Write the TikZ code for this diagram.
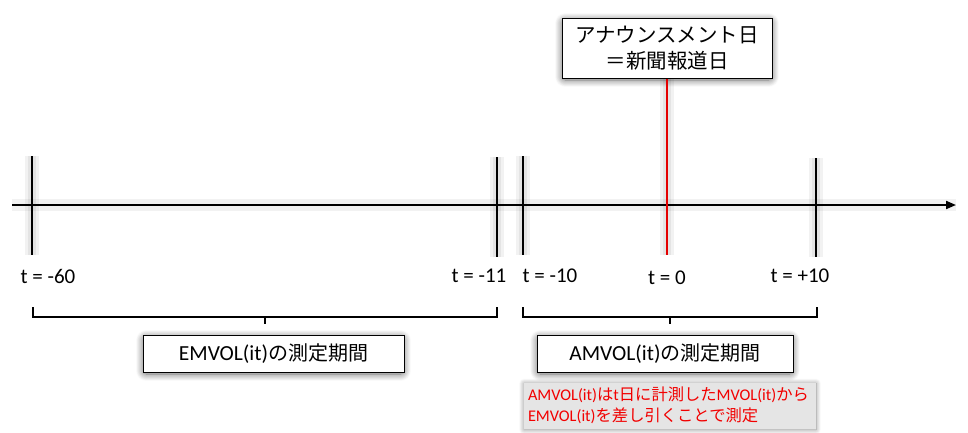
\documentclass[tikz,border=0pt]{standalone}
\usepackage{fontspec}
\setmainfont{Carlito}
\newfontfamily\jp{Noto Sans CJK JP}
\usetikzlibrary{shadows.blur,arrows.meta}
\begin{document}
\begin{tikzpicture}[x=1pt,y=-1pt,
  glow/.style={preaction={draw=black,opacity=0.05,line width=14pt},
               preaction={draw=black,opacity=0.06,line width=8pt}},
  axisline/.style={line width=2pt,black},
  tickline/.style={line width=2.4pt,black,glow},
  redline/.style={line width=2.4pt,red!90!black,glow},
  bracket/.style={line width=1.6pt,black},
  lab/.style={font=\fontsize{21}{24}\selectfont,inner sep=0pt},
  sbox/.style={draw=black,line width=1pt,fill=white,inner sep=0pt,
    blur shadow={shadow blur steps=12,shadow xshift=0pt,shadow yshift=-2pt,shadow blur radius=7pt,shadow blur extra rounding=3pt,shadow opacity=60}},
  notebox/.style={fill=gray!20,inner sep=0pt,text=red!95!black,align=left,
    font=\fontsize{16.3}{20.5}\selectfont,text width=284pt,minimum width=292pt,minimum height=46pt,
    blur shadow={shadow blur steps=10,shadow xshift=0pt,shadow yshift=-1pt,shadow blur radius=5pt,shadow opacity=45}}
]
\useasboundingbox (0,0) rectangle (968,432);
% axis
\coordinate (a0) at (12,205);
\coordinate (a1) at (956,205);
\draw[black,opacity=0.05,line width=12pt] (a0) -- (a1);
\draw[axisline,-{Triangle[length=10pt,width=8pt]}] (a0) -- (a1);
% ticks
\coordinate (m60t) at (32,156); \coordinate (m60b) at (32,255);
\coordinate (m11t) at (497,157); \coordinate (m11b) at (497,257);
\coordinate (m10t) at (523,156); \coordinate (m10b) at (523,255);
\coordinate (p10t) at (816,158); \coordinate (p10b) at (816,257);
\coordinate (z0b) at (667,255);
\draw[tickline] (m60t) -- (m60b);
\draw[tickline] (m11t) -- (m11b);
\draw[tickline] (m10t) -- (m10b);
\draw[tickline] (p10t) -- (p10b);
% top box
\node[sbox,minimum width=210pt,minimum height=60pt,align=center,
  font=\jp\fontsize{20.5}{26}\selectfont] (tb) at (667,48) {アナウンスメント日\\＝新聞報道日};
\draw[redline] (tb.south) -- (z0b);
% labels
\node[lab] (l60) at (48,276) {t = -60};
\node[lab] (l11) at (479,276) {t = -11};
\node[lab] (l10) at (550,276) {t = -10};
\node[lab] (l0) at (667,278) {t = 0};
\node[lab] (lp10) at (800,276) {t = +10};
% brackets
\coordinate (b1a) at (33,307); \coordinate (b1b) at (33,317);
\coordinate (b1c) at (497,317); \coordinate (b1d) at (497,307);
\coordinate (b1m) at (265,317); \coordinate (b1n) at (265,324);
\draw[bracket] (b1a) -- (b1b) -- (b1c) -- (b1d);
\draw[bracket] (b1m) -- (b1n);
\coordinate (b2a) at (523,307); \coordinate (b2b) at (523,317);
\coordinate (b2c) at (817,317); \coordinate (b2d) at (817,307);
\coordinate (b2m) at (670,317); \coordinate (b2n) at (670,324);
\draw[bracket] (b2a) -- (b2b) -- (b2c) -- (b2d);
\draw[bracket] (b2m) -- (b2n);
% period boxes
\node[sbox,minimum width=261pt,minimum height=37pt,font=\fontsize{21.5}{24}\selectfont] (eb) at (273.5,353.5)
  {EMVOL(it){\jp\fontsize{20}{24}\selectfont の測定期間}};
\node[sbox,minimum width=256pt,minimum height=37pt,font=\fontsize{21.5}{24}\selectfont] (ab) at (665,353.5)
  {AMVOL(it){\jp\fontsize{20}{24}\selectfont の測定期間}};
% note
\node[notebox] (nb) at (670,405.5)
  {AMVOL(it){\jp は}t{\jp 日に計測した}MVOL(it){\jp から}\\EMVOL(it){\jp を差し引くことで測定}};
\end{tikzpicture}
\end{document}
